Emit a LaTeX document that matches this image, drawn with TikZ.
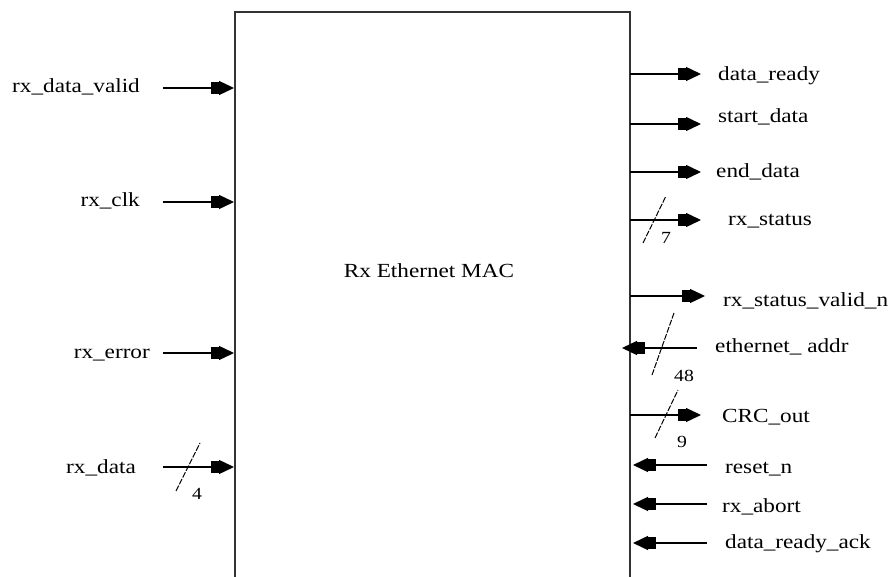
\documentclass[tikz,border=0pt]{standalone}
\usepackage{fontspec}
\setmainfont{Liberation Serif}[FakeStretch=1.16]
\usetikzlibrary{arrows.meta}
\begin{document}
\begin{tikzpicture}[x=1pt,y=-1pt,
  lbl/.style={inner sep=0pt,font=\fontsize{20}{24}\selectfont},
  lbll/.style={lbl,anchor=base east},
  lblr/.style={lbl,anchor=base west},
  num/.style={inner sep=0pt,anchor=base,font=\fontsize{17}{20}\selectfont},
  sig/.style={line width=1.4pt,-{Rectangle[length=8pt,width=12pt]Triangle[length=15pt,width=14pt]}},
  bus/.style={line width=1pt,dash pattern=on 6pt off 1.5pt},
  boxline/.style={line width=2pt,draw=black!80}]
\useasboundingbox (0,0) rectangle (895,577);
% block
\coordinate (bl) at (235,580);
\coordinate (tl) at (235,12);
\coordinate (tr) at (630,12);
\coordinate (br) at (630,580);
\draw[boxline] (bl) -- (tl) -- (tr) -- (br);
\node[lbl,anchor=base] (title) at (429,278) {Rx Ethernet MAC};
% left inputs
\node[lbll] (ldv) at (140,93) {rx\_data\_valid};
\node[lbll] (lclk) at (140,207) {rx\_clk};
\node[lbll] (lerr) at (150,359) {rx\_error};
\node[lbll] (ldat) at (136,473) {rx\_data};
\coordinate (sdv) at (163,88);  \coordinate (edv) at (234,88);
\coordinate (sclk) at (163,202); \coordinate (eclk) at (234,202);
\coordinate (serr) at (163,353); \coordinate (eerr) at (234,353);
\coordinate (sdat) at (163,467); \coordinate (edat) at (234,467);
\draw[sig] (sdv) -- (edv);
\draw[sig] (sclk) -- (eclk);
\draw[sig] (serr) -- (eerr);
\draw[sig] (sdat) -- (edat);
\coordinate (b4a) at (176,491); \coordinate (b4b) at (200,443);
\draw[bus] (b4a) -- (b4b);
\node[num] (n4) at (197,499) {4};
% right outputs
\node[lblr] (rdr) at (718,81) {data\_ready};
\node[lblr] (rsd) at (718,123) {start\_data};
\node[lblr] (red) at (716,178) {end\_data};
\node[lblr] (rst) at (728,226) {rx\_status};
\node[lblr] (rsv) at (723,307) {rx\_status\_valid\_n};
\node[lblr] (rea) at (715,353) {ethernet\_ addr};
\node[lblr] (rcrc) at (722,423) {CRC\_out};
\node[lblr] (rrst) at (725,473) {reset\_n};
\node[lblr] (rab) at (722,512) {rx\_abort};
\node[lblr] (rack) at (725,548) {data\_ready\_ack};
\coordinate (odr) at (630,74);  \coordinate (tdr) at (701,74);
\coordinate (osd) at (630,124); \coordinate (tsd) at (701,124);
\coordinate (oed) at (630,172); \coordinate (ted) at (701,172);
\coordinate (ost) at (630,220); \coordinate (tst) at (701,220);
\coordinate (osv) at (630,296); \coordinate (tsv) at (705,296);
\coordinate (oea) at (697,348); \coordinate (tea) at (622,348);
\coordinate (ocrc) at (630,415); \coordinate (tcrc) at (701,415);
\coordinate (orst) at (707,465); \coordinate (trst) at (633,465);
\coordinate (oab) at (707,504); \coordinate (tab) at (633,504);
\coordinate (oack) at (707,543); \coordinate (tack) at (633,543);
\draw[sig] (odr) -- (tdr);
\draw[sig] (osd) -- (tsd);
\draw[sig] (oed) -- (ted);
\draw[sig] (ost) -- (tst);
\draw[sig] (osv) -- (tsv);
\draw[sig] (oea) -- (tea);
\draw[sig] (ocrc) -- (tcrc);
\draw[sig] (orst) -- (trst);
\draw[sig] (oab) -- (tab);
\draw[sig] (oack) -- (tack);
% bus slashes
\coordinate (b7a) at (643,243); \coordinate (b7b) at (666,196);
\draw[bus] (b7a) -- (b7b);
\node[num] (n7) at (666,244) {7};
\coordinate (b48a) at (652,375); \coordinate (b48b) at (674,313);
\draw[bus] (b48a) -- (b48b);
\node[num] (n48) at (684,382) {48};
\coordinate (b9a) at (655,438); \coordinate (b9b) at (678,390);
\draw[bus] (b9a) -- (b9b);
\node[num] (n9) at (682,448) {9};
\end{tikzpicture}
\end{document}
